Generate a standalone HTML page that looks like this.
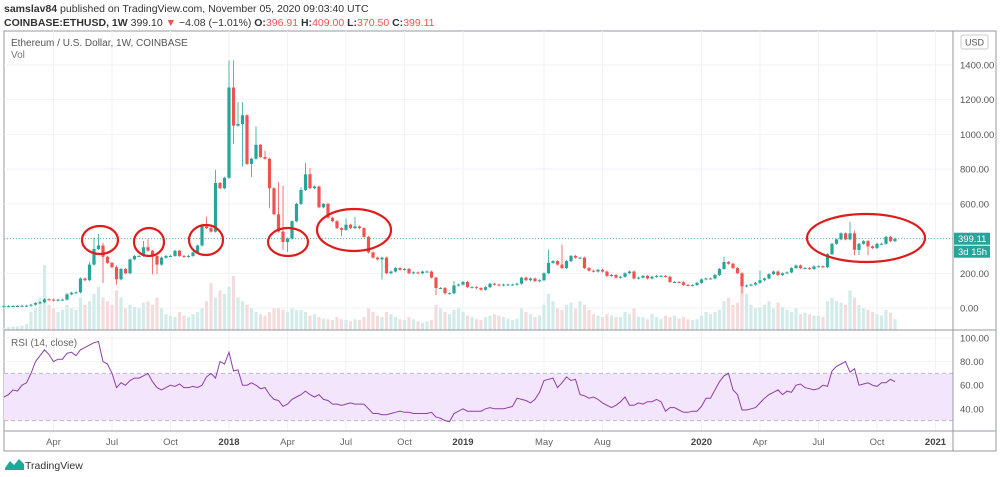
<!DOCTYPE html>
<html><head><meta charset="utf-8">
<style>
html,body{margin:0;padding:0;background:#fff;width:1000px;height:477px;overflow:hidden;font-family:"Liberation Sans",sans-serif;}
svg text{font-family:"Liberation Sans",sans-serif;}
</style></head>
<body>
<svg id="c" width="1000" height="477" viewBox="0 0 1000 477" xmlns="http://www.w3.org/2000/svg">
<text x="4" y="12" font-size="10.5" fill="#333"><tspan font-weight="bold">samslav84</tspan> published on TradingView.com, November 05, 2020 09:03:40 UTC</text>
<text x="4" y="26" font-size="10.5" fill="#333"><tspan font-weight="bold">COINBASE:ETHUSD, 1W</tspan> 399.10 <tspan fill="#ef5350">▼</tspan> −4.08 (−1.01%) <tspan font-weight="bold">O:</tspan><tspan fill="#ef5350">396.91</tspan> <tspan font-weight="bold">H:</tspan><tspan fill="#ef5350">409.00</tspan> <tspan font-weight="bold">L:</tspan><tspan fill="#ef5350">370.50</tspan> <tspan font-weight="bold">C:</tspan><tspan fill="#ef5350">399.11</tspan></text>
<rect x="4" y="31" width="992" height="420" fill="none" stroke="#9598a1" stroke-width="1"/>
<g id="grid"></g>
<g id="vol"></g>
<g id="candles"></g>
<g id="rsi"></g>
<g id="ann"></g>
<line x1="953" y1="31" x2="953" y2="451" stroke="#9598a1"/>
<line x1="4" y1="330" x2="996" y2="330" stroke="#9598a1"/>
<line x1="4" y1="431" x2="996" y2="431" stroke="#9598a1"/>
<text x="11" y="46" font-size="10" fill="#555">Ethereum / U.S. Dollar, 1W, COINBASE</text>
<text x="11" y="58" font-size="10" fill="#777">Vol</text>
<text x="11" y="346" font-size="10" fill="#666">RSI (14, close)</text>
<rect x="961" y="35" width="27" height="14" rx="2" fill="#fff" stroke="#c9cbd1"/>
<text x="974.5" y="45.5" font-size="9" fill="#555" text-anchor="middle">USD</text>
<g id="axes"></g>
<g>
<path d="M5 468 L10 461 L14 465 L19 459 L24 464 L24 470 L5 470 Z" fill="#26a69a"/>
<text x="25" y="469" font-size="10.5" fill="#333">TradingView</text>
</g>
</svg>
<script>
const closes=[10.5,10.6,11.4,11.4,12.8,13.2,19,28.5,33,50,48,43,48,48,79,88,90,170,160,250,340,360,295,260,235,165,225,200,280,300,300,350,330,300,250,290,300,300,330,300,295,300,320,360,470,460,440,720,690,750,
1270,1050,1060,1110,830,860,940,870,860,690,540,440,380,400,500,600,680,770,690,700,580,600,520,500,460,450,480,460,470,460,410,320,290,280,290,200,210,230,220,225,200,205,200,210,210,175,115,115,85,85,130,135,
150,120,120,115,105,120,140,135,130,135,135,135,140,175,160,170,155,160,200,260,270,250,230,270,300,290,290,230,215,210,220,210,185,190,175,180,200,210,170,175,185,170,180,185,185,180,150,150,148,133,130,132,
145,165,170,170,190,225,265,255,230,200,125,130,135,145,160,170,195,210,190,200,205,230,245,230,230,225,240,240,235,310,370,395,430,395,430,335,370,385,355,345,370,370,410,385,399];
const highsNotable={19:260,20:400,21:420,22:370,25:240,31:380,32:390,44:480,45:520,47:790,50:1420,51:1420,52:1180,53:1180,54:1000,56:1040,58:900,61:720,62:700,66:690,67:830,68:800,76:510,78:520,100:150,121:330,124:360,160:290,168:210,184:320,188:490,189:440};
const lowsNotable={22:150,25:140,26:190,33:200,34:200,51:950,53:820,55:760,59:580,62:340,63:330,75:420,84:170,96:80,98:82,164:90,189:310,190:310,192:310};
const volumes=[3,4,5,5,6,8,25,30,45,90,35,30,25,28,35,30,28,45,35,40,50,60,45,40,35,55,45,30,35,32,30,38,40,35,45,30,22,20,18,25,20,18,22,25,30,40,65,45,55,50,
60,75,45,40,35,30,25,22,20,25,30,30,28,25,30,28,28,25,20,22,18,16,15,14,18,15,14,12,15,14,18,30,25,20,18,25,22,18,15,14,18,15,12,10,12,14,35,30,25,22,28,30,
25,20,18,15,14,18,20,22,20,18,16,14,16,30,25,22,18,20,35,50,40,30,28,35,38,30,40,35,28,22,20,18,22,20,18,18,25,22,30,18,18,15,22,18,15,20,18,20,16,18,15,14,
15,20,25,22,25,28,40,45,35,38,75,50,35,30,32,35,40,30,38,32,28,25,30,22,24,22,20,20,18,40,45,40,38,35,55,45,35,30,28,25,22,20,28,24,15];
const rsiValues=[50,52,56,55,60,62,70,80,85,90,86,80,82,82,87,88,85,90,92,94,96,97,80,78,70,58,62,60,64,66,66,68,70,63,58,56,58,60,59,61,58,58,59,58,60,67,70,66,80,78,
88,72,73,60,60,62,60,57,58,52,48,47,42,44,48,50,52,55,52,50,52,48,47,44,44,43,44,45,44,44,44,40,36,36,35,35,36,37,38,37,37,36,36,36,36,37,33,32,30,29,36,38,
40,38,38,38,38,40,41,40,40,40,41,42,49,48,47,45,48,54,64,65,66,58,62,67,64,65,52,51,49,50,48,45,43,41,43,46,50,43,43,45,44,46,46,48,46,38,41,41,39,37,37,38,
38,42,49,49,56,63,68,70,56,52,39,39,40,41,45,49,52,54,56,52,55,54,60,61,58,57,56,57,60,59,72,76,78,80,71,74,60,61,62,60,59,62,62,65,63];
const priceTicks=[1400,1200,1000,800,600,400,200,0];
const rsiTicks=[100,80,60,40];
const timeLabels=["Apr","Jul","Oct","2018","Apr","Jul","Oct","2019","May","Aug","2020","Apr","Jul","Oct","2021"];
const timeWeeks=[11,24,37,50,63,76,89,102,120,133,155,168,181,194,207];
const lastPrice=399.11;

const NS="http://www.w3.org/2000/svg";
const xOf=i=>4+i*4.5;
const yP=v=>308-v*0.1736;
const yR=v=>338+(100-v)*1.18;
const yV=v=>330-v*0.72;
function mk(tag,attrs,parent){const e=document.createElementNS(NS,tag);for(const k in attrs)e.setAttribute(k,attrs[k]);parent.appendChild(e);return e;}
const grid=document.getElementById('grid'),vol=document.getElementById('vol'),cg=document.getElementById('candles'),rg=document.getElementById('rsi'),ax=document.getElementById('axes'),ann=document.getElementById('ann');

priceTicks.forEach(v=>{
 const y=yP(v);
 const l=mk('line',{x1:4,x2:953,y1:y,y2:y,stroke:'#f0f2f6'},grid);
 
 
 if(v===400)return;
 const t=mk('text',{x:960,y:y+3.5,'font-size':9.5,fill:'#555'},ax);t.textContent=v.toFixed(2);
 
 
});
rsiTicks.forEach(v=>{
 const y=yR(v);
 const l=mk('line',{x1:4,x2:953,y1:y,y2:y,stroke:'#f0f2f6'},grid);
 
 
 const t=mk('text',{x:960,y:y+3.5,'font-size':9.5,fill:'#555'},ax);t.textContent=v.toFixed(2);
 
 
});
timeLabels.forEach((s,k)=>{
 const x=xOf(timeWeeks[k]);
 const l=mk('line',{x1:x,x2:x,y1:31,y2:431,stroke:'#f0f2f6'},grid);
 
 
 const bold=/^\d{4}$/.test(s);
 const t=mk('text',{x:x,y:445,'font-size':9.5,fill:bold?'#444':'#666','font-weight':bold?'bold':'normal','text-anchor':'middle'},ax);t.textContent=s;
 
 
});
const band=mk('rect',{x:4,y:yR(70),width:949,height:yR(30)-yR(70),fill:'#f3e6fc'},rg);


[70,30].forEach(v=>{const l=mk('line',{x1:4,x2:953,y1:yR(v),y2:yR(v),stroke:'#b9b9c9','stroke-dasharray':'4 3'},rg);
 
 });
closes.forEach((c,i)=>{
 const o=i===0?10:closes[i-1];
 const up=c>=o;
 const col=up?'#26a69a':'#ef5350';
 const x=xOf(i);
 const vb=mk('rect',{x:x-1.6,y:yV(volumes[i]),width:3.2,height:330-yV(volumes[i]),fill:up?'#d3ece9':'#f5dcdc'},vol);
 
 
 const hi=Math.max(highsNotable[i]||0,o,c),lo=Math.min(lowsNotable[i]||1e9,o,c);
 const w=mk('line',{x1:x,x2:x,y1:yP(hi)-1,y2:yP(lo)+1,stroke:col,'stroke-width':0.8},cg);
 
 
 const yt=yP(Math.max(o,c)),yb=yP(Math.min(o,c));
 const b=mk('rect',{x:x-1.6,y:yt,width:3.2,height:Math.max(1,yb-yt),fill:col},cg);
 
 
});
const lp=mk('line',{x1:4,x2:953,y1:yP(lastPrice),y2:yP(lastPrice),stroke:'#26a69a','stroke-dasharray':'1 2','stroke-width':0.8},cg);


const tag=mk('rect',{x:954,y:yP(lastPrice)-6,width:36,height:12,fill:'#26a69a'},ax);


const tt=mk('text',{x:958,y:yP(lastPrice)+3.5,'font-size':9.5,fill:'#fff'},ax);tt.textContent=lastPrice.toFixed(2);


const tag2=mk('rect',{x:954,y:yP(lastPrice)+7,width:36,height:12,fill:'#26a69a'},ax);


const tt2=mk('text',{x:958,y:yP(lastPrice)+16.5,'font-size':9.5,fill:'#fff'},ax);tt2.textContent='3d 15h';


const pts=rsiValues.map((v,i)=>xOf(i).toFixed(1)+','+yR(v).toFixed(1)).join(' ');
const rl=mk('polyline',{points:pts,fill:'none',stroke:'#8e3fa8','stroke-width':1},rg);


[[100,240,18,14],[149,242,15,14],[206,240,17,15],[288,242,20,14],[354,230,37,21],[866,238,59,24]].forEach(a=>{
 const e=mk('ellipse',{cx:a[0],cy:a[1],rx:a[2],ry:a[3],fill:'none',stroke:'#e01b1b','stroke-width':2.2},ann);
 
 
});
</script>
</body></html>
